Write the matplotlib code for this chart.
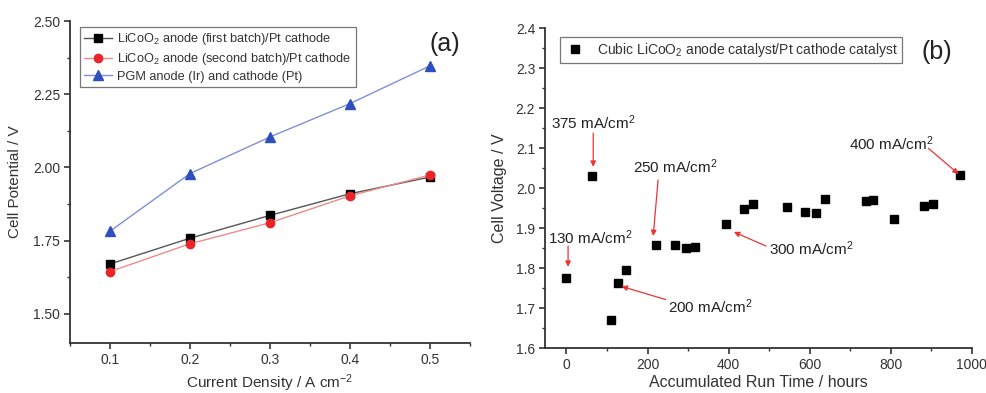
import matplotlib
matplotlib.use("Agg")
import matplotlib.pyplot as plt
from matplotlib.ticker import MultipleLocator

plt.rcParams['font.family'] = ['Liberation Sans', 'DejaVu Sans']
plt.rcParams['mathtext.default'] = 'regular'

# Panel (a) data
current_density = [0.1, 0.2, 0.3, 0.4, 0.5]
licoo2_first = [1.670, 1.758, 1.836, 1.910, 1.967]
licoo2_second = [1.644, 1.739, 1.811, 1.903, 1.974]
pgm = [1.782, 1.979, 2.104, 2.218, 2.347]
labels_a = ["LiCoO$_2$ anode (first batch)/Pt cathode",
            "LiCoO$_2$ anode (second batch)/Pt cathode",
            "PGM anode (Ir) and cathode (Pt)"]

# Panel (b) data
run_time = [0, 62, 110, 126, 146, 222, 268, 294, 317, 393, 438, 459, 543, 589,
            616, 637, 738, 757, 807, 881, 905, 971]
cell_voltage = [1.776, 2.030, 1.669, 1.763, 1.796, 1.857, 1.857, 1.849, 1.852, 1.909,
                1.948, 1.959, 1.953, 1.940, 1.937, 1.972, 1.968, 1.970, 1.923, 1.955,
                1.960, 2.032]
label_b = "Cubic LiCoO$_2$ anode catalyst/Pt cathode catalyst"

ann_text = ["375 mA/cm$^2$", "130 mA/cm$^2$", "250 mA/cm$^2$", "200 mA/cm$^2$",
            "300 mA/cm$^2$", "400 mA/cm$^2$"]
ann_text_xy = [(-39, 2.164), (-45, 1.876), (165, 2.053), (251, 1.703), (500, 1.849), (698, 2.110)]
ann_tail = [(66, 2.137), (4, 1.855), (226, 2.020), (245, 1.721), (492, 1.855), (893, 2.099)]
ann_head = [(66, 2.053), (4, 1.803), (214, 1.880), (136, 1.754), (413, 1.890), (967, 2.035)]

fig = plt.figure(figsize=(9.86, 3.93), dpi=100)
axc = '#333333'

def style(ax):
    for s in ['top', 'right']:
        ax.spines[s].set_visible(False)
    for s in ['left', 'bottom']:
        ax.spines[s].set_color(axc)
        ax.spines[s].set_linewidth(1.3)
    ax.tick_params(which='major', direction='out', length=4, width=1.2, color=axc,
                   labelsize=10, labelcolor='#333333', pad=3)
    ax.tick_params(which='minor', direction='out', length=2.5, width=1.0, color=axc)

ax1 = fig.add_axes([0.071, 0.1272, 0.4057, 0.8193])
ax1.plot(current_density, licoo2_first, '-s', color='#555555', lw=1.0,
         mfc='black', mec='black', ms=6, label=labels_a[0])
ax1.plot(current_density, licoo2_second, '-o', color='#f08a8a', lw=1.0,
         mfc='#e8262a', mec='#e8262a', ms=6, label=labels_a[1])
ax1.plot(current_density, pgm, '-^', color='#8090d8', lw=1.0,
         mfc='#2f4fbf', mec='#2f4fbf', ms=6.5, label=labels_a[2])
ax1.set_xlim(0.05, 0.55)
ax1.set_ylim(1.40, 2.50)
ax1.set_xticks([0.1, 0.2, 0.3, 0.4, 0.5])
ax1.set_yticks([1.50, 1.75, 2.00, 2.25, 2.50])
ax1.set_yticklabels(['1.50', '1.75', '2.00', '2.25', '2.50'])
ax1.xaxis.set_minor_locator(MultipleLocator(0.05))
ax1.yaxis.set_minor_locator(MultipleLocator(0.125))
style(ax1)
ax1.set_xlabel('Current Density / A cm$^{-2}$', fontsize=11, color='#333333', labelpad=4)
ax1.set_ylabel('Cell Potential / V', fontsize=11, color='#333333', labelpad=8)
leg1 = ax1.legend(loc='upper left', bbox_to_anchor=(0.01, 1.0), fontsize=9.2, frameon=True,
                  fancybox=False, edgecolor='#555555', handlelength=2.2,
                  borderpad=0.3, labelspacing=0.3, handletextpad=0.4)
leg1.get_frame().set_linewidth(0.9)
for t in leg1.get_texts():
    t.set_color('#333333')
ax1.text(0.518, 2.42, '(a)', fontsize=18, ha='center', va='center', color='#222222')

ax2 = fig.add_axes([0.5527, 0.1145, 0.433, 0.8142])
ax2.plot(run_time, cell_voltage, 's', color='black', ms=5.5, ls='none', label=label_b)
ax2.set_xlim(-53, 1000)
ax2.set_ylim(1.6, 2.4)
ax2.set_xticks([0, 200, 400, 600, 800, 1000])
ax2.set_yticks([1.6, 1.7, 1.8, 1.9, 2.0, 2.1, 2.2, 2.3, 2.4])
ax2.xaxis.set_minor_locator(MultipleLocator(100))
ax2.yaxis.set_minor_locator(MultipleLocator(0.05))
style(ax2)
ax2.set_xlabel('Accumulated Run Time / hours', fontsize=11.5, color='#333333', labelpad=2)
ax2.set_ylabel('Cell Voltage / V', fontsize=11.5, color='#333333', labelpad=6)
leg2 = ax2.legend(loc='upper left', bbox_to_anchor=(0.02, 0.995), fontsize=10, frameon=True,
                  fancybox=False, edgecolor='#555555', handlelength=1.5,
                  borderpad=0.3, handletextpad=0.8)
leg2.get_frame().set_linewidth(0.9)
for t in leg2.get_texts():
    t.set_color('#333333')
ax2.text(914, 2.34, '(b)', fontsize=18, ha='center', va='center', color='#222222')

for txt, txy, tail, head in zip(ann_text, ann_text_xy, ann_tail, ann_head):
    ax2.text(txy[0], txy[1], txt, fontsize=11, ha='left', va='center', color='#222222')
    ax2.annotate('', xy=head, xytext=tail,
                 arrowprops=dict(arrowstyle='-|>', color='#ee3333', lw=0.9,
                                 mutation_scale=8, shrinkA=0, shrinkB=0))

fig.savefig('out.png', dpi=100)
